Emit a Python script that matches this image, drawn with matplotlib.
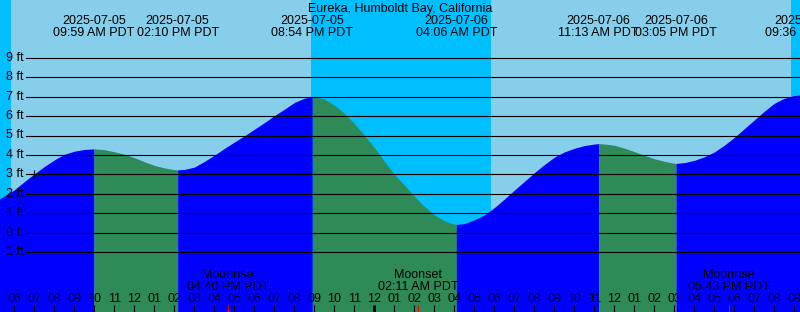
import matplotlib
matplotlib.use("Agg")
import numpy as np
import matplotlib.pyplot as plt

plt.rcParams['font.family'] = ['Liberation Sans', 'DejaVu Sans']

# time in hours from 2025-07-05 00:00 PDT
title = "Eureka, Humboldt Bay, California"

# tide level every half hour (05:00 on 07-05 .. 22:00 on 07-06)
read_times = [5 + 0.5 * i for i in range(83)]
read_levels = [1.57, 1.88, 2.20, 2.62, 3.02, 3.40, 3.74, 4.03, 4.19, 4.28,
               4.31, 4.27, 4.16, 4.04, 3.86, 3.65, 3.46, 3.33, 3.24, 3.25,
               3.37, 3.66, 3.98, 4.33, 4.66, 4.98, 5.32, 5.66, 6.02, 6.35,
               6.70, 6.92, 6.99, 6.88, 6.57, 6.15, 5.62, 5.02, 4.38, 3.68,
               3.00, 2.45, 1.87, 1.35, 0.91, 0.60, 0.43, 0.46, 0.65, 0.90,
               1.28, 1.72, 2.18, 2.63, 3.08, 3.50, 3.88, 4.15, 4.34, 4.48,
               4.56, 4.56, 4.50, 4.35, 4.17, 3.98, 3.80, 3.67, 3.57, 3.60,
               3.72, 3.90, 4.15, 4.50, 4.90, 5.35, 5.80, 6.25, 6.66, 6.92,
               7.06, 7.12, 7.12]

# high / low tides
ext_times = [9 + 59/60, 14 + 10/60, 20 + 54/60, 28 + 6/60, 35 + 13/60, 39 + 5/60, 45 + 36/60]
ext_levels = [4.31, 3.23, 7.00, 0.41, 4.58, 3.56, 7.13]
ext_dates = ["2025-07-05", "2025-07-05", "2025-07-05", "2025-07-06",
             "2025-07-06", "2025-07-06", "2025-07-06"]
ext_labels = ["09:59 AM PDT", "02:10 PM PDT", "08:54 PM PDT", "04:06 AM PDT",
              "11:13 AM PDT", "03:05 PM PDT", "09:36 PM PDT"]

# moon events
moon_times = [16 + 40/60, 26 + 11/60, 41 + 43/60]
moon_names = ["Moonrise", "Moonset", "Moonrise"]
moon_labels = ["04:40 PM PDT", "02:11 AM PDT", "05:43 PM PDT"]

# sunrise / sunset
sunrise = [5 + 50/60, 29 + 49/60]
sunset = [20 + 50/60, 44 + 50/60]

# current time mark
now_time = 7.0
now_level = 3.0

levels_ft = list(range(-1, 10))

W, H = 800, 312
t_min = 6 - 14.3 / 20
t_max = t_min + W / 20
y_top = 232.5 / 19.4
y_bot = (232.5 - H) / 19.4

fig = plt.figure(figsize=(W / 100, H / 100), dpi=100)
ax = fig.add_axes([0, 0, 1, 1])
ax.set_xlim(t_min, t_max)
ax.set_ylim(y_bot, y_top)
ax.axis('off')

day = '#87CEEB'
night = '#00BFFF'
rise = '#0000FF'
fall = '#2E8B57'

# sky
ax.axvspan(t_min, t_max, color=night, lw=0)
for a, b in zip(sunrise, sunset):
    ax.axvspan(a, b, color=day, lw=0)

# water, blue while rising, green while falling
t_all = np.array(read_times + ext_times, dtype=float)
h_all = np.array(read_levels + ext_levels, dtype=float)
order = np.argsort(t_all)
t_all, h_all = t_all[order], h_all[order]

bounds = [read_times[0]] + ext_times + [read_times[-1]]
for a, b in zip(bounds[:-1], bounds[1:]):
    m = (t_all >= a) & (t_all <= b)
    tt, hh = t_all[m], h_all[m]
    col = rise if hh[-1] > hh[0] else fall
    ax.fill_between(tt, y_bot, hh, color=col, lw=0)

# depth lines
trans = ax.get_yaxis_transform()
for lv in levels_ft:
    ax.axhline(lv, xmin=26 / W, xmax=1, color='black', lw=0.8)
    ax.text(24 / W, lv, f"{lv} ft", transform=trans, ha='right', va='center', fontsize=9)

ax.plot([now_time], [now_level], marker='+', color='black', ms=6, mew=0.8)

xt = ax.get_xaxis_transform()

def px(y):
    return 1 - y / H

ax.text(0.5, px(12), title, transform=ax.transAxes, ha='center', va='baseline', fontsize=9)

for t, d, lab in zip(ext_times, ext_dates, ext_labels):
    ax.text(t, px(24), d, transform=xt, ha='center', va='baseline', fontsize=9)
    ax.text(t, px(36), lab, transform=xt, ha='center', va='baseline', fontsize=9)

for t, n, lab in zip(moon_times, moon_names, moon_labels):
    ax.text(t, px(278), n, transform=xt, ha='center', va='baseline', fontsize=9)
    ax.text(t, px(290), lab, transform=xt, ha='center', va='baseline', fontsize=9)

# hour ticks
hour_ticks = list(range(6, 46))
for t in hour_ticks:
    ax.text(t, px(302), f"{(t % 12) or 12:02d}", transform=xt, ha='center', va='baseline', fontsize=9)
    lw = 2 if t % 24 == 0 else 0.8
    ax.vlines(t, 0, px(305), transform=xt, color='black', lw=lw)
ax.vlines(moon_times, 0, px(305), transform=xt, color='red', lw=0.8)

plt.savefig("out.png", dpi=100)
